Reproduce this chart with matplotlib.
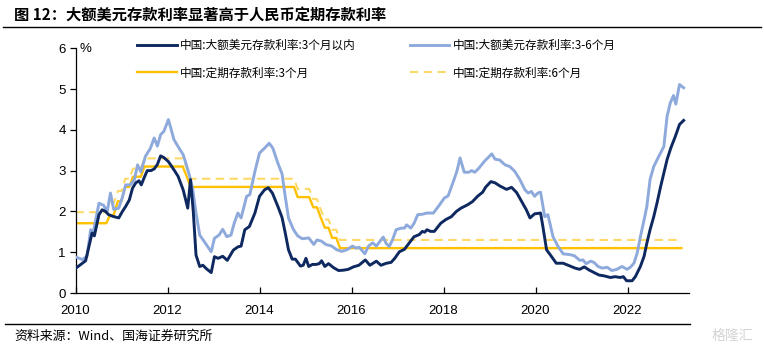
import matplotlib
matplotlib.use("Agg")
import matplotlib.pyplot as plt
from matplotlib.lines import Line2D

CJK = ['Noto Sans CJK SC', 'DejaVu Sans']
plt.rcParams['font.family'] = ['Liberation Sans', 'Noto Sans CJK SC', 'DejaVu Sans']

# ---------------- data ----------------
usd_3m_t = [2010.01, 2010.22, 2010.36, 2010.41, 2010.51, 2010.58, 2010.65, 2010.72, 2010.81, 2010.94,
            2011.02, 2011.09, 2011.17, 2011.24, 2011.31, 2011.38, 2011.43, 2011.49, 2011.56, 2011.64,
            2011.71, 2011.78, 2011.85, 2011.92, 2012.02, 2012.14, 2012.23, 2012.34, 2012.44, 2012.50,
            2012.56, 2012.62, 2012.70, 2012.77, 2012.84, 2012.95, 2013.02, 2013.10, 2013.20, 2013.30,
            2013.43, 2013.53, 2013.60, 2013.68, 2013.78, 2013.90, 2014.00, 2014.11, 2014.19, 2014.28,
            2014.40, 2014.49, 2014.56, 2014.63, 2014.71, 2014.78, 2014.89, 2014.95, 2015.01, 2015.07,
            2015.15, 2015.23, 2015.30, 2015.35, 2015.42, 2015.50, 2015.61, 2015.72, 2015.83, 2015.93,
            2016.04, 2016.16, 2016.30, 2016.40, 2016.54, 2016.64, 2016.76, 2016.86, 2016.94, 2017.04,
            2017.15, 2017.25, 2017.36, 2017.47, 2017.54, 2017.59, 2017.64, 2017.72, 2017.80, 2017.94,
            2018.05, 2018.17, 2018.28, 2018.38, 2018.52, 2018.63, 2018.74, 2018.85, 2018.92, 2019.03,
            2019.12, 2019.23, 2019.37, 2019.48, 2019.59, 2019.70, 2019.80, 2019.88, 2019.98, 2020.11,
            2020.16, 2020.24, 2020.35, 2020.45, 2020.60, 2020.75, 2020.86, 2020.96, 2021.06, 2021.17,
            2021.31, 2021.38, 2021.49, 2021.63, 2021.73, 2021.84, 2021.91, 2021.98, 2022.10, 2022.17,
            2022.28, 2022.36, 2022.42, 2022.49, 2022.57, 2022.64, 2022.72, 2022.79, 2022.86, 2022.94,
            2023.04, 2023.13, 2023.22]
usd_3m_v = [0.61, 0.79, 1.47, 1.40, 1.92, 2.04, 2.00, 1.92, 1.88, 1.84,
            2.00, 2.12, 2.28, 2.57, 2.70, 2.75, 2.65, 2.82, 3.00, 3.00,
            3.04, 3.15, 3.36, 3.32, 3.22, 3.02, 2.86, 2.53, 2.08, 2.78,
            2.00, 0.93, 0.65, 0.68, 0.60, 0.50, 0.89, 0.85, 0.90, 0.80,
            1.05, 1.13, 1.15, 1.55, 1.63, 1.96, 2.37, 2.53, 2.58, 2.45,
            2.12, 1.85, 1.47, 1.06, 0.83, 0.83, 0.66, 0.68, 0.85, 0.65,
            0.70, 0.70, 0.72, 0.79, 0.65, 0.72, 0.62, 0.55, 0.56, 0.58,
            0.64, 0.68, 0.81, 0.68, 0.78, 0.68, 0.73, 0.75, 0.85, 1.01,
            1.07, 1.22, 1.38, 1.43, 1.51, 1.49, 1.55, 1.51, 1.51, 1.71,
            1.80, 1.87, 2.00, 2.08, 2.16, 2.24, 2.37, 2.47, 2.60, 2.73,
            2.70, 2.62, 2.54, 2.59, 2.46, 2.24, 2.04, 1.84, 1.94, 1.96,
            1.63, 1.06, 0.89, 0.73, 0.73, 0.66, 0.61, 0.58, 0.64, 0.56,
            0.48, 0.44, 0.42, 0.38, 0.40, 0.38, 0.40, 0.30, 0.30, 0.40,
            0.65, 0.90, 1.22, 1.55, 1.87, 2.20, 2.61, 2.94, 3.27, 3.55,
            3.84, 4.13, 4.23]

usd_36m_t = [2010.01, 2010.15, 2010.25, 2010.33, 2010.38, 2010.51, 2010.61, 2010.69, 2010.76, 2010.83,
             2010.94, 2011.02, 2011.09, 2011.19, 2011.28, 2011.35, 2011.42, 2011.52, 2011.63, 2011.71,
             2011.78, 2011.85, 2011.92, 2012.02, 2012.14, 2012.23, 2012.34, 2012.41, 2012.48, 2012.55,
             2012.62, 2012.70, 2012.80, 2012.95, 2013.02, 2013.12, 2013.20, 2013.29, 2013.38, 2013.45,
             2013.53, 2013.60, 2013.72, 2013.79, 2013.90, 2014.00, 2014.11, 2014.21, 2014.29, 2014.40,
             2014.49, 2014.56, 2014.63, 2014.74, 2014.83, 2014.93, 2015.07, 2015.18, 2015.25, 2015.35,
             2015.44, 2015.57, 2015.68, 2015.79, 2015.90, 2016.02, 2016.10, 2016.17, 2016.29, 2016.37,
             2016.46, 2016.54, 2016.69, 2016.75, 2016.82, 2016.89, 2016.97, 2017.08, 2017.15, 2017.20,
             2017.29, 2017.36, 2017.44, 2017.54, 2017.64, 2017.78, 2017.90, 2018.02, 2018.10, 2018.20,
             2018.29, 2018.36, 2018.45, 2018.55, 2018.61, 2018.68, 2018.77, 2018.89, 2018.98, 2019.05,
             2019.12, 2019.22, 2019.34, 2019.44, 2019.55, 2019.66, 2019.77, 2019.84, 2019.91, 2019.98,
             2020.05, 2020.11, 2020.20, 2020.27, 2020.38, 2020.49, 2020.60, 2020.75, 2020.85, 2020.96,
             2021.03, 2021.10, 2021.20, 2021.27, 2021.36, 2021.45, 2021.56, 2021.66, 2021.77, 2021.88,
             2021.99, 2022.06, 2022.14, 2022.21, 2022.28, 2022.36, 2022.42, 2022.49, 2022.57, 2022.68,
             2022.79, 2022.86, 2022.93, 2023.00, 2023.05, 2023.13, 2023.22]
usd_36m_v = [0.88, 0.82, 0.90, 1.55, 1.45, 2.20, 2.15, 2.00, 2.45, 2.05,
             2.08, 2.35, 2.65, 2.65, 2.78, 3.14, 2.97, 3.35, 3.55, 3.80,
             3.60, 3.88, 3.96, 4.25, 3.76, 3.59, 3.39, 3.14, 2.87, 2.53,
             1.96, 1.42, 1.26, 1.01, 1.34, 1.42, 1.56, 1.38, 1.42, 1.71,
             1.96, 1.84, 2.37, 2.41, 2.98, 3.43, 3.55, 3.67, 3.55, 3.18,
             2.92, 2.36, 1.84, 1.55, 1.40, 1.33, 1.35, 1.19, 1.30, 1.27,
             1.19, 1.15, 1.06, 1.02, 1.06, 1.15, 1.10, 1.12, 0.96, 1.15,
             1.23, 1.15, 1.37, 1.22, 1.14, 1.30, 1.55, 1.59, 1.59, 1.67,
             1.59, 1.71, 1.92, 1.93, 1.96, 1.96, 2.14, 2.33, 2.38, 2.69,
             2.98, 3.31, 2.96, 2.96, 3.00, 2.96, 3.06, 3.23, 3.33, 3.41,
             3.28, 3.26, 3.14, 3.10, 2.98, 2.78, 2.53, 2.45, 2.49, 2.37,
             2.45, 2.47, 1.87, 1.92, 1.38, 1.14, 0.96, 0.94, 0.91, 0.80,
             0.81, 0.72, 0.78, 0.75, 0.65, 0.61, 0.63, 0.55, 0.58, 0.65,
             0.58, 0.63, 0.73, 0.98, 1.38, 1.79, 2.12, 2.78, 3.10, 3.35,
             3.59, 4.33, 4.66, 4.84, 4.63, 5.11, 5.03]

dep_t = [2010.00, 2010.67, 2010.75, 2010.83, 2010.92, 2011.00, 2011.08, 2011.17, 2011.25, 2011.42,
         2011.50, 2012.33, 2012.42, 2012.50, 2014.75, 2014.83, 2015.08, 2015.17, 2015.25, 2015.33,
         2015.42, 2015.50, 2015.58, 2015.67, 2015.75, 2023.17]
dep_3m_v = [1.71, 1.71, 1.91, 1.91, 2.25, 2.25, 2.60, 2.60, 2.85, 2.85,
            3.10, 3.10, 2.85, 2.60, 2.60, 2.35, 2.35, 2.10, 2.10, 1.85,
            1.60, 1.60, 1.35, 1.35, 1.10, 1.10]
dep_6m_v = [1.98, 1.98, 2.20, 2.20, 2.50, 2.50, 2.80, 2.80, 3.05, 3.05,
            3.30, 3.30, 3.05, 2.80, 2.80, 2.55, 2.55, 2.30, 2.30, 2.05,
            1.80, 1.80, 1.55, 1.55, 1.30, 1.30]

labels = ['中国:大额美元存款利率:3个月以内', '中国:大额美元存款利率:3-6个月',
          '中国:定期存款利率:3个月', '中国:定期存款利率:6个月']
x_ticks = [2010, 2012, 2014, 2016, 2018, 2020, 2022]
y_ticks = [0, 1, 2, 3, 4, 5, 6]
title = '图 12：大额美元存款利率显著高于人民币定期存款利率'
source = '资料来源：Wind、国海证券研究所'

# ---------------- styles ----------------
NAVY = '#0E2860'
LBLUE = '#8EA9DB'
GOLD = '#FFC000'
LGOLD = '#FFD966'

W, H = 764, 350
fig = plt.figure(figsize=(W / 100, H / 100), dpi=100)
ax = fig.add_axes([75.5 / W, (H - 293) / H, (688.7 - 75.5) / W, 244.8 / H])

l3, = ax.plot(dep_t, dep_3m_v, color=GOLD, lw=1.7, zorder=2)
l4, = ax.plot(dep_t, dep_6m_v, color=LGOLD, lw=1.5, dashes=(4, 2.6), zorder=2)
l2, = ax.plot(usd_36m_t, usd_36m_v, color=LBLUE, lw=2.1, zorder=3)
l1, = ax.plot(usd_3m_t, usd_3m_v, color=NAVY, lw=2.1, zorder=4)

ax.set_xlim(2010, 2023.33)
ax.set_ylim(0, 6)
ax.set_xticks(x_ticks)
ax.set_xticklabels([str(v) for v in x_ticks])
ax.set_yticks(y_ticks)
ax.set_yticklabels([str(v) for v in y_ticks])
for s in ['top', 'right']:
    ax.spines[s].set_visible(False)
for s in ['left', 'bottom']:
    ax.spines[s].set_linewidth(0.9)
    ax.spines[s].set_color('black')
ax.tick_params(axis='x', direction='in', length=4, width=0.9, pad=9, labelsize=9.5)
ax.tick_params(axis='y', direction='out', length=4, width=0.9, pad=3, labelsize=9.5)

fig.text(80 / W, 1 - 49 / H, '%', fontsize=9.5, va='center', ha='left')

# matplotlib fills legend columns first: order so rows read l1 l2 / l3 l4
leg = fig.legend([l1, l3, l2, l4], [labels[0], labels[2], labels[1], labels[3]],
                 ncol=2, loc='upper left',
                 bbox_to_anchor=(137 / W, 1 - 39 / H), frameon=False,
                 prop={'family': CJK, 'size': 8.4}, handlelength=3.4,
                 handletextpad=0.3, columnspacing=4.6, labelspacing=1.25,
                 borderpad=0, borderaxespad=0)

fig.text(14 / W, 1 - 15 / H, title, fontsize=11, fontweight='bold',
         family=CJK, va='center', ha='left')
fig.add_artist(Line2D([3 / W, 761 / W], [1 - 27 / H, 1 - 27 / H], color='black', lw=1.0))
fig.add_artist(Line2D([5 / W, 690 / W], [1 - 324 / H, 1 - 324 / H], color='black', lw=1.0))
fig.text(14 / W, 1 - 336 / H, source, fontsize=9.3, family=CJK, va='center', ha='left')
fig.text(712 / W, 1 - 336 / H, '格隆汇', fontsize=10, family=CJK, va='center', ha='left',
         color='#d4d4d4')

fig.savefig('out.png', dpi=100)
